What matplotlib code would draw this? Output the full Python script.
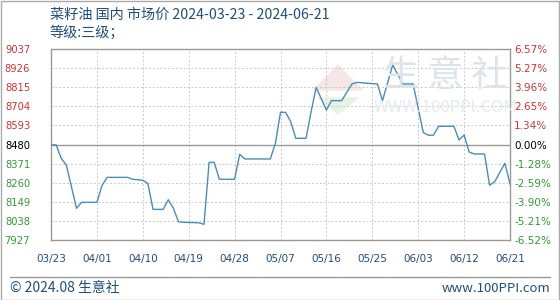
import matplotlib
matplotlib.use("Agg")
import matplotlib.pyplot as plt
import matplotlib.dates as mdates
import numpy as np
import datetime as dt

plt.rcParams['font.family'] = ['Noto Sans CJK SC', 'DejaVu Sans']

dates = ["2024-03-23","2024-03-24","2024-03-25","2024-03-26","2024-03-28","2024-03-29",
         "2024-04-01","2024-04-02","2024-04-03","2024-04-07","2024-04-08","2024-04-10",
         "2024-04-11","2024-04-12","2024-04-14","2024-04-15","2024-04-16","2024-04-17",
         "2024-04-18","2024-04-21","2024-04-22","2024-04-23","2024-04-24","2024-04-25",
         "2024-04-28","2024-04-29","2024-04-30","2024-05-05","2024-05-06","2024-05-07",
         "2024-05-08","2024-05-09","2024-05-10","2024-05-12","2024-05-13","2024-05-14",
         "2024-05-16","2024-05-17","2024-05-19","2024-05-21","2024-05-22","2024-05-24",
         "2024-05-26","2024-05-27","2024-05-29","2024-05-31","2024-06-02","2024-06-04",
         "2024-06-05","2024-06-06","2024-06-07","2024-06-10","2024-06-11","2024-06-12",
         "2024-06-13","2024-06-14","2024-06-16","2024-06-17","2024-06-18","2024-06-20",
         "2024-06-21"]
prices = [8480, 8480, 8402, 8363, 8111, 8146,
          8146, 8243, 8291, 8291, 8280, 8274,
          8256, 8105, 8105, 8161, 8111, 8033,
          8030, 8027, 8018, 8378, 8378, 8280,
          8280, 8425, 8398, 8398, 8489, 8669,
          8669, 8615, 8518, 8518, 8673, 8814,
          8682, 8737, 8737, 8834, 8843, 8838,
          8834, 8737, 8944, 8834, 8834, 8551,
          8536, 8536, 8588, 8588, 8508, 8537,
          8438, 8427, 8427, 8245, 8266, 8373,
          8253]

left_ticks = [9037, 8926, 8815, 8704, 8593, 8480, 8371, 8260, 8149, 8038, 7927]
right_labels = ["6.57%", "5.27%", "3.96%", "2.65%", "1.34%", "0.00%",
                "-1.28%", "-2.59%", "-3.90%", "-5.21%", "-6.52%"]
x_tick_labels = ["03/23", "04/01", "04/10", "04/19", "04/28", "05/07",
                 "05/16", "05/25", "06/03", "06/12", "06/21"]
base = 8480

title = "菜籽油 国内 市场价 2024-03-23 - 2024-06-21"
subtitle = "等级:三级；"
footer_left = "© 2024.08 生意社"
footer_right = "www.100PPI.com"

RED = "#cc3333"
GREEN = "#339933"
LINE = "#4a8db5"

x = [dt.datetime.strptime(d, "%Y-%m-%d") for d in dates]
xt = [dt.datetime(2024, int(s[:2]), int(s[3:])) for s in x_tick_labels]

fig = plt.figure(figsize=(5.6, 3.0), dpi=100)
fig.patch.set_facecolor("white")

# watermark (behind axes content)
fig.text(445/560, 1-76/300, "生 意 社", fontsize=26, color="#dde3eb", ha="center", va="center", zorder=0)
fig.text(445/560, 1-107/300, "WWW.100PPI.COM", fontsize=12, color="#e6e9ee", ha="center", va="center", zorder=0)
tri = plt.Polygon([[314/560, 1-90/300], [338/560, 1-65/300], [362/560, 1-90/300]],
                  closed=True, transform=fig.transFigure, color="#f7e6e6", zorder=0)
fig.add_artist(tri)
tri2 = plt.Polygon([[318/560, 1-98/300], [338/560, 1-114/300], [358/560, 1-98/300]],
                   closed=True, transform=fig.transFigure, color="#e6f3e6", zorder=0)
fig.add_artist(tri2)

ax = fig.add_axes([51/560, 1-240/300, 459/560, 191/300])
ax.patch.set_alpha(0)
ax.plot(x, prices, color=LINE, lw=1.0, zorder=3)
ax.set_xlim(xt[0], xt[-1])
ax.set_ylim(left_ticks[-1], left_ticks[0])

ax.set_yticks(left_ticks)
ax.set_yticklabels([str(v) for v in left_ticks], fontsize=7.2, family=['DejaVu Sans'])
for lab, v in zip(ax.get_yticklabels(), left_ticks):
    lab.set_color(RED if v > base else (GREEN if v < base else "black"))
ax.set_xticks(xt)
ax.set_xticklabels(x_tick_labels, fontsize=7.5, color="#1f4e79", family=['DejaVu Sans'])
ax.tick_params(axis='x', length=0, pad=10)
ax.tick_params(axis='y', length=0, pad=15)

ax.grid(True, color="#c8c8c8", ls=(0, (2, 2)), lw=0.7)
ax.axhline(base, color="#999999", lw=1.0, zorder=2)
for s in ax.spines.values():
    s.set_color("#999999")
    s.set_linewidth(1.0)

ax2 = ax.twinx()
ax2.set_ylim(ax.get_ylim())
ax2.set_yticks(left_ticks)
ax2.set_yticklabels(right_labels, fontsize=7.5, family=['DejaVu Sans'])
for lab, v in zip(ax2.get_yticklabels(), left_ticks):
    lab.set_color(RED if v > base else (GREEN if v < base else "black"))
ax2.tick_params(length=0, pad=3)
for s in ax2.spines.values():
    s.set_visible(False)

fig.text(50/560, 1-15/300, title, fontsize=10.2, color="#1f4e79", ha="left", va="center")
fig.text(50/560, 1-33/300, subtitle, fontsize=10.2, color="#1f4e79", ha="left", va="center")

fig.add_artist(plt.Line2D([10/560, 550/560], [1-277/300, 1-277/300], transform=fig.transFigure,
                          color="#999999", lw=1.0))
fig.add_artist(plt.Rectangle((0.5/560, 0.5/300), 558.5/560, 298.5/300, transform=fig.transFigure,
                             fill=False, edgecolor="#aaaaaa", lw=1.0))
fig.text(10/560, 1-288/300, footer_left, fontsize=10, color="#1f4e79", ha="left", va="center")
fig.text(550/560, 1-288/300, footer_right, fontsize=9.5, color="#1f4e79", ha="right", va="center")

fig.savefig("out.png", dpi=100, facecolor="white")
